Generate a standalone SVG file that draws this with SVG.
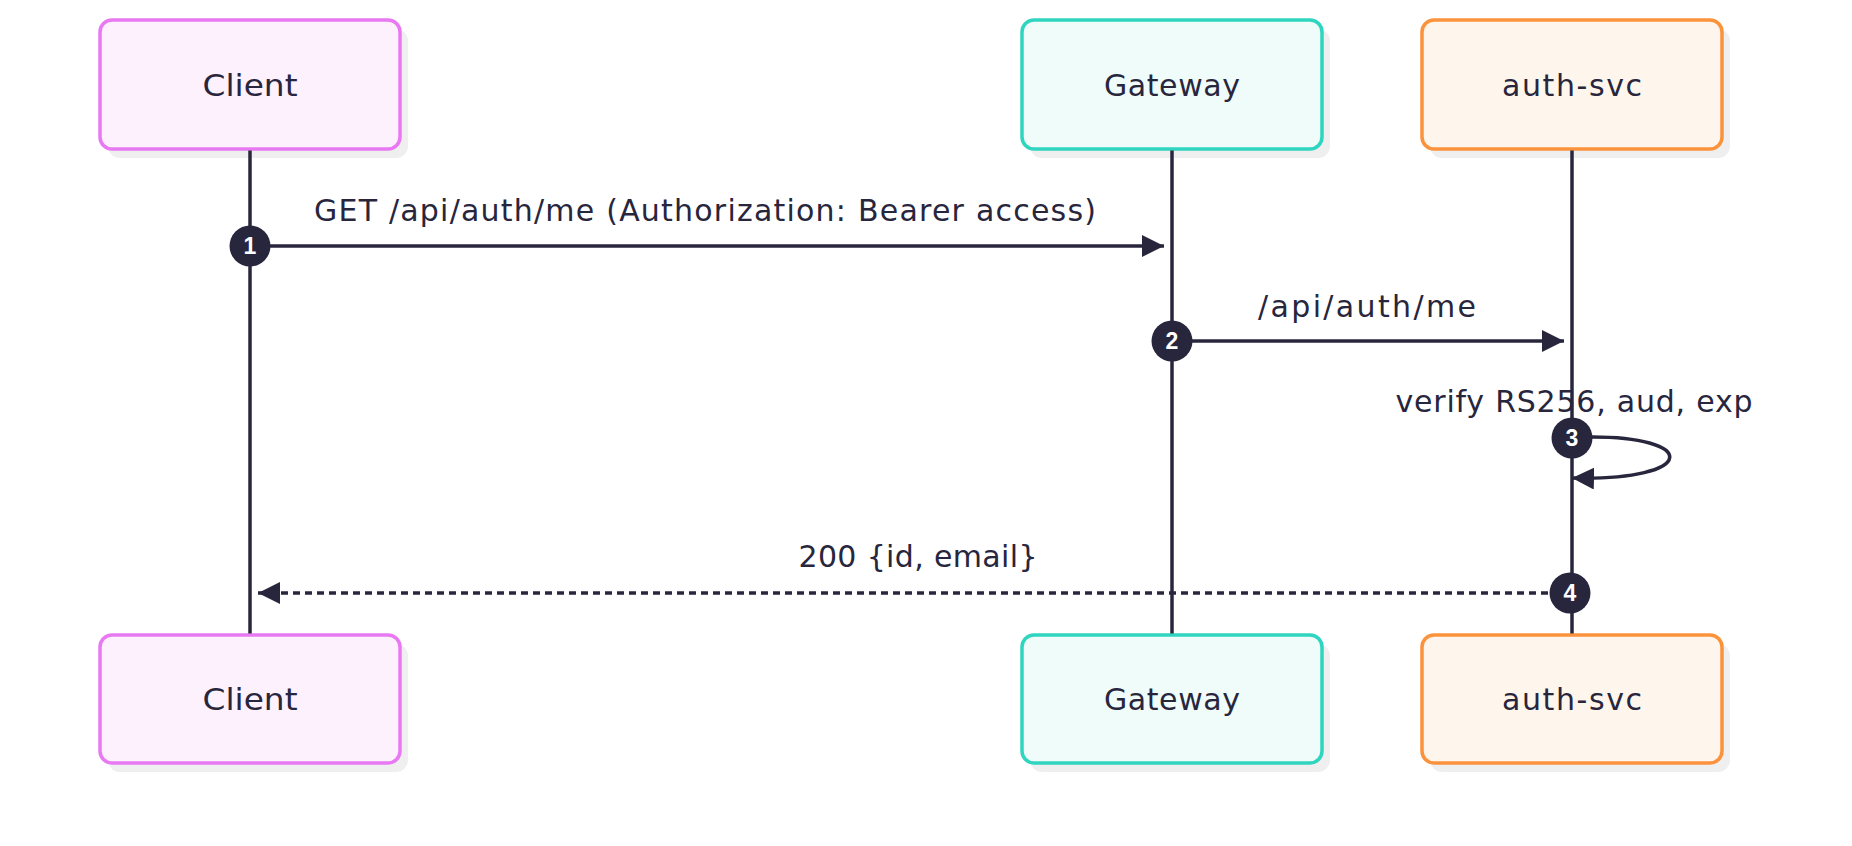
<svg xmlns="http://www.w3.org/2000/svg" width="1852" height="846" viewBox="0 0 1852 846">
  <style>
    .shadow { fill: #efeff0; }
    .box { stroke-width: 3.5; }
    .client { fill: #fdf1fd; stroke: #e879f3; }
    .gateway { fill: #f0fcf9; stroke: #2fd5bf; }
    .auth { fill: #fef5ec; stroke: #fb923c; }
    .lbl { font-family: "DejaVu Sans", "Noto Sans", sans-serif; font-size: 30px; fill: #28263d; text-anchor: middle; }
    .life { stroke: #28263d; stroke-width: 3.5; fill: none; }
    .msg { stroke: #28263d; stroke-width: 3.5; fill: none; }
    .dash { stroke-dasharray: 7 5; }
    .num { fill: #28263d; }
    .numt { font-family: "Liberation Sans", Arial, sans-serif; font-weight: bold; font-size: 23px; fill: #ffffff; text-anchor: middle; }
  </style>
  <defs>
    <marker id="ah" viewBox="0 0 10 10" refX="10" refY="5" markerWidth="22" markerHeight="22" markerUnits="userSpaceOnUse" orient="auto">
      <path d="M0,0 L10,5 L0,10 Z" fill="#28263d"/>
    </marker>
  </defs>

  <g id="client-top">
    <rect class="shadow" x="108" y="29" width="300" height="129" rx="12"/>
    <rect class="box client" x="100" y="20" width="300" height="129" rx="12"/>
    <text class="lbl" x="250" y="96" textLength="95" lengthAdjust="spacingAndGlyphs">Client</text>
  </g>
  <g id="gateway-top">
    <rect class="shadow" x="1030" y="29" width="300" height="129" rx="12"/>
    <rect class="box gateway" x="1022" y="20" width="300" height="129" rx="12"/>
    <text class="lbl" x="1172" y="96" textLength="136" lengthAdjust="spacing">Gateway</text>
  </g>
  <g id="auth-top">
    <rect class="shadow" x="1430" y="29" width="300" height="129" rx="12"/>
    <rect class="box auth" x="1422" y="20" width="300" height="129" rx="12"/>
    <text class="lbl" x="1572" y="96" textLength="140" lengthAdjust="spacing">auth-svc</text>
  </g>

  <g id="client-bottom">
    <rect class="shadow" x="108" y="644" width="300" height="128" rx="12"/>
    <rect class="box client" x="100" y="635" width="300" height="128" rx="12"/>
    <text class="lbl" x="250" y="710" textLength="95" lengthAdjust="spacingAndGlyphs">Client</text>
  </g>
  <g id="gateway-bottom">
    <rect class="shadow" x="1030" y="644" width="300" height="128" rx="12"/>
    <rect class="box gateway" x="1022" y="635" width="300" height="128" rx="12"/>
    <text class="lbl" x="1172" y="710" textLength="136" lengthAdjust="spacing">Gateway</text>
  </g>
  <g id="auth-bottom">
    <rect class="shadow" x="1430" y="644" width="300" height="128" rx="12"/>
    <rect class="box auth" x="1422" y="635" width="300" height="128" rx="12"/>
    <text class="lbl" x="1572" y="710" textLength="140" lengthAdjust="spacing">auth-svc</text>
  </g>

  <g id="lifelines">
    <line class="life" x1="250" y1="150.5" x2="250" y2="633.5"/>
    <line class="life" x1="1172" y1="150.5" x2="1172" y2="633.5"/>
    <line class="life" x1="1572" y1="150.5" x2="1572" y2="633.5"/>
  </g>

  <g id="connectors">
    <line class="msg" x1="250" y1="246" x2="1164" y2="246" marker-end="url(#ah)"/>
    <text class="lbl" x="705" y="221" textLength="782" lengthAdjust="spacing">GET /api/auth/me (Authorization: Bearer access)</text>

    <line class="msg" x1="1172" y1="341" x2="1564" y2="341" marker-end="url(#ah)"/>
    <text class="lbl" x="1367" y="317" textLength="218" lengthAdjust="spacing">/api/auth/me</text>

    <path class="msg" d="M1585,437 C1700,435 1700,481 1572,478" marker-end="url(#ah)"/>
    <text class="lbl" x="1574" y="412" textLength="357" lengthAdjust="spacing">verify RS256, aud, exp</text>

    <line class="msg dash" x1="1572" y1="593" x2="258" y2="593" marker-end="url(#ah)"/>
    <text class="lbl" x="918" y="567" textLength="239" lengthAdjust="spacing">200 {id, email}</text>

    <g id="step-1"><circle class="num" cx="250" cy="246" r="20.5"/><text class="numt" x="250" y="254">1</text></g>
    <g id="step-2"><circle class="num" cx="1172" cy="341" r="20.5"/><text class="numt" x="1172" y="349">2</text></g>
    <g id="step-3"><circle class="num" cx="1572" cy="438" r="20.5"/><text class="numt" x="1572" y="446">3</text></g>
    <g id="step-4"><circle class="num" cx="1570" cy="593" r="20.5"/><text class="numt" x="1570" y="601">4</text></g>
  </g>
</svg>
